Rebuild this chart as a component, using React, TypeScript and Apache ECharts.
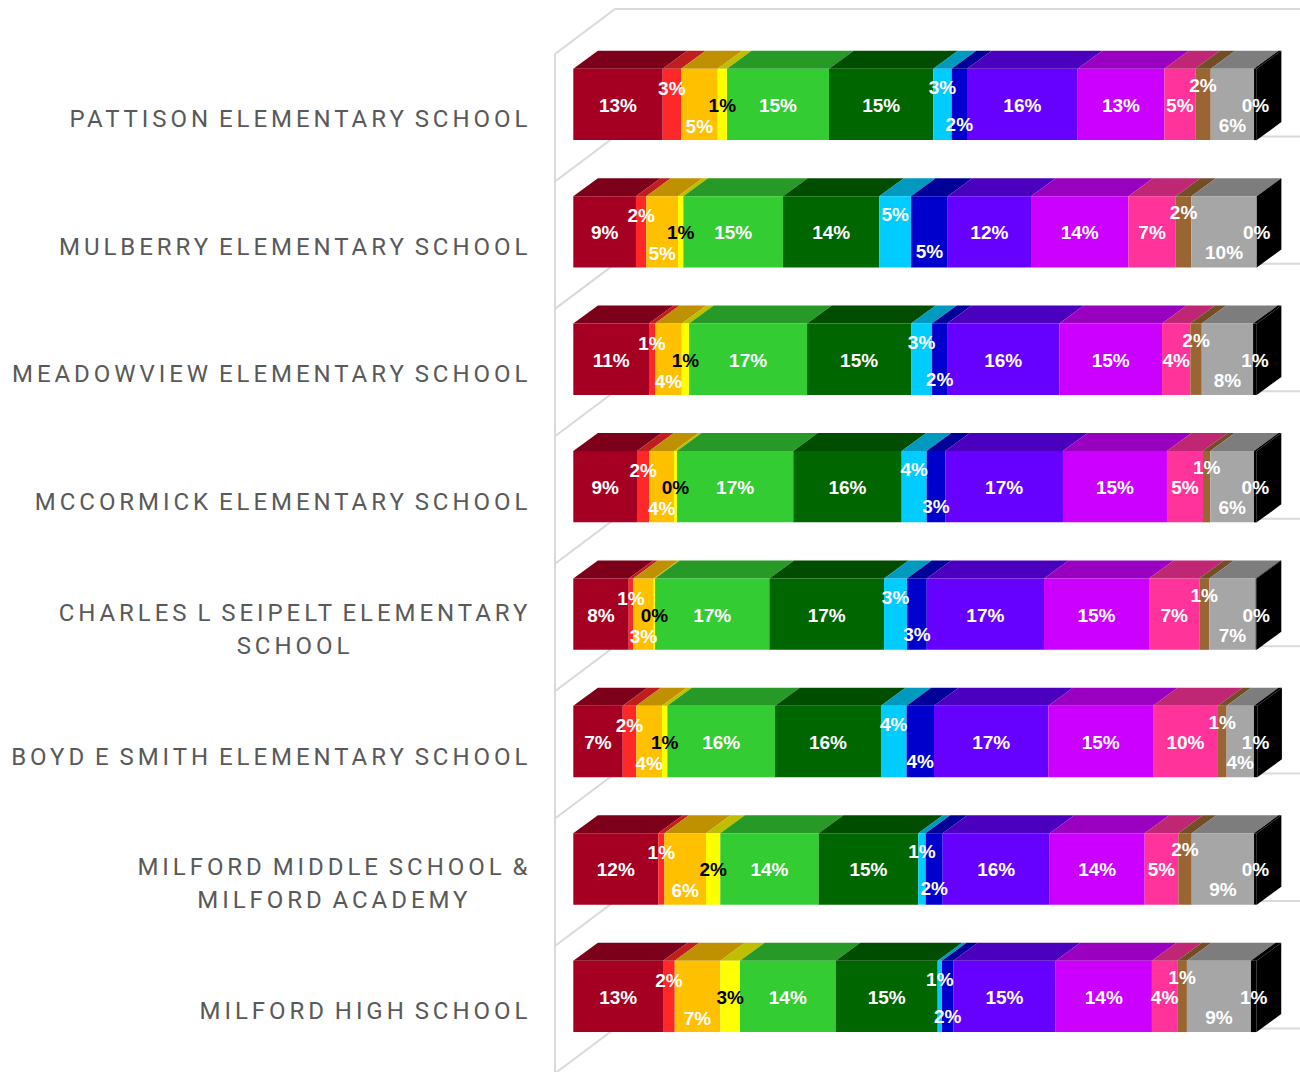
import React, { useEffect, useRef } from "react";
import * as echarts from "echarts";

const schools = [
  "PATTISON ELEMENTARY SCHOOL",
  "MULBERRY ELEMENTARY SCHOOL",
  "MEADOWVIEW ELEMENTARY SCHOOL",
  "MCCORMICK ELEMENTARY SCHOOL",
  "CHARLES L SEIPELT ELEMENTARY\nSCHOOL",
  "BOYD E SMITH ELEMENTARY SCHOOL",
  "MILFORD MIDDLE SCHOOL &\nMILFORD ACADEMY",
  "MILFORD HIGH SCHOOL",
];

const darkRed = [13.08, 9.17, 11.08, 9.32, 8.11, 7.23, 12.44, 13.13];
const red = [2.68, 1.51, 0.88, 1.8, 0.67, 1.99, 0.88, 1.71];
const orange = [5.37, 4.64, 3.91, 3.61, 2.99, 3.76, 6.1, 6.67];
const yellow = [1.36, 0.78, 1.07, 0.44, 0.19, 0.78, 2.09, 2.88];
const green = [14.93, 14.59, 17.27, 17.02, 16.73, 15.76, 14.4, 14.0];
const darkGreen = [15.26, 14.09, 15.22, 15.86, 16.78, 15.5, 14.57, 14.93];
const cyan = [2.69, 4.64, 3.07, 3.66, 3.37, 3.75, 1.08, 0.63];
const blue = [2.24, 5.37, 2.19, 2.72, 2.88, 4.01, 2.49, 1.65];
const violet = [16.2, 12.19, 16.43, 17.22, 17.16, 16.73, 15.66, 14.98];
const magenta = [12.67, 14.24, 15.03, 15.22, 15.36, 15.32, 13.9, 14.09];
const pink = [4.54, 6.94, 4.14, 5.27, 7.36, 9.5, 4.92, 3.7];
const brown = [2.25, 2.28, 1.67, 1.07, 1.46, 1.27, 1.96, 1.42];
const grey = [6.34, 9.57, 7.51, 6.39, 6.79, 3.99, 9.12, 9.37];
const black = [0.4, 0, 0.54, 0.4, 0.15, 0.5, 0.4, 0.83];

const seriesValues = [darkRed, red, orange, yellow, green, darkGreen, cyan, blue, violet, magenta, pink, brown, grey, black];
const frontColors = ["#A50021", "#FF2828", "#FFC000", "#FFFF00", "#33CC33", "#006600", "#00CCFF", "#0000CC", "#6600FF", "#CC00FF", "#FF3399", "#996633", "#A6A6A6", "#000000"];
const topColors = ["#7C0019", "#BF1E1E", "#BF9000", "#BFBF00", "#269926", "#004D00", "#0099BF", "#000099", "#4C00BF", "#9900BF", "#BF2673", "#734D26", "#7D7D7D", "#000000"];
const labelColors = ["#fff", "#fff", "#fff", "#000", "#fff", "#fff", "#fff", "#fff", "#fff", "#fff", "#fff", "#fff", "#fff", "#fff"];
const labelShift = [1, -16, 22, 1, 1, 1, -17, 20, 1, 1, 1, -19, 21, 1];

const DEPTH_X = 24.6;
const DEPTH_Y = 18;
const BAR_RISE = 15;
const BAR_HEIGHT_RATIO = 0.56;
const WALL_COLOR = "#D9D9D9";
const LETTER_SPACING = 3.95;
const WORD_SPACING = -3;

export default function App() {
  const ref = useRef<HTMLDivElement>(null);

  useEffect(() => {
    const chart = echarts.init(ref.current!, null, { renderer: "svg" });

    const wallSeries = {
      type: "custom",
      silent: true,
      z: 1,
      coordinateSystem: "cartesian2d",
      encode: { x: 0, y: 1 },
      data: schools.map((_, i) => [0, i]),
      renderItem: (params: any, api: any) => {
        const band = api.size([0, 1])[1];
        const origin = api.coord([0, api.value(1)]);
        const wallX = origin[0] - 18.3;
        const style = { stroke: WALL_COLOR, lineWidth: 2, fill: "none" };
        const floor = (y: number) => ({
          type: "polyline",
          shape: { points: [[wallX, y], [wallX + 60, y - 45], [1300, y - 45]] },
          style,
        });
        const y = origin[1] - band / 2 - 1.7;
        const children: any[] = [floor(y)];
        if (params.dataIndex === 0) {
          children.push({
            type: "line",
            shape: { x1: wallX, y1: y, x2: wallX, y2: 1072 },
            style,
          });
        }
        if (params.dataIndex === schools.length - 1) {
          children.push(floor(y + band));
        }
        return { type: "group", children };
      },
    };

    const barSeries = seriesValues.map((values, s) => {
      const data = values.map((v, row) => {
        let start = 0;
        for (let k = 0; k < s; k++) start += seriesValues[k][row];
        return [start, start + v, row];
      });
      return {
        type: "custom",
        silent: true,
        z: 3,
        coordinateSystem: "cartesian2d",
        encode: { x: [0, 1], y: 2 },
        data,
        renderItem: (params: any, api: any) => {
          const row = api.value(2);
          const p0 = api.coord([api.value(0), row]);
          const p1 = api.coord([api.value(1), row]);
          const band = api.size([0, 1])[1];
          const h = band * BAR_HEIGHT_RATIO;
          const cy = p0[1] - BAR_RISE;
          const yt = cy - h / 2;
          const children: any[] = [
            {
              type: "polygon",
              shape: {
                points: [
                  [p0[0], yt],
                  [p1[0], yt],
                  [p1[0] + DEPTH_X, yt - DEPTH_Y],
                  [p0[0] + DEPTH_X, yt - DEPTH_Y],
                ],
              },
              style: { fill: topColors[s] },
            },
            {
              type: "rect",
              shape: { x: p0[0], y: yt, width: p1[0] - p0[0], height: h },
              style: { fill: frontColors[s] },
            },
          ];
          if (s === seriesValues.length - 1) {
            children.push({
              type: "polygon",
              shape: {
                points: [
                  [p1[0], yt],
                  [p1[0] + DEPTH_X, yt - DEPTH_Y],
                  [p1[0] + DEPTH_X, yt - DEPTH_Y + h],
                  [p1[0], yt + h],
                ],
              },
              style: { fill: "#000000" },
            });
          }
          children.push({
            type: "text",
            z2: 50,
            style: {
              text: `${Math.round(values[params.dataIndex])}%`,
              x: (p0[0] + p1[0]) / 2,
              y: cy + labelShift[s],
              align: "center",
              verticalAlign: "middle",
              fill: labelColors[s],
              font: "bold 19px 'Liberation Sans'",
            },
          });
          return { type: "group", children };
        },
      };
    });

    chart.setOption({
      animation: false,
      backgroundColor: "#ffffff",
      grid: { left: 573.3, width: 683.4, top: 55.7, height: 1019.4, outerBoundsMode: "none" },
      xAxis: { type: "value", min: 0, max: 100, show: false },
      yAxis: {
        type: "category",
        inverse: true,
        data: schools,
        axisLine: { show: false },
        axisTick: { show: false },
        splitLine: { show: false },
        axisLabel: {
          interval: 0,
          margin: 42,
          color: "#595959",
          fontFamily: "Roboto",
          fontSize: 24,
          lineHeight: 33,
          align: "right",
        },
      },
      series: [wallSeries, ...barSeries],
    });

    // ECharts has no letter-spacing option for axis labels: apply it on the drawn SVG text.
    const dom = ref.current!;
    const allLines = schools.flatMap((s) => s.split("\n"));
    const nodes = Array.from(dom.querySelectorAll("text")) as SVGTextElement[];
    const find = (line: string) => nodes.find((n) => n.textContent === line);
    allLines.forEach((line) => {
      const n = find(line);
      if (n) {
        n.style.letterSpacing = `${LETTER_SPACING}px`;
        n.style.wordSpacing = `${WORD_SPACING}px`;
      }
    });
    schools
      .filter((s) => s.includes("\n"))
      .forEach((s) => {
        const [a, b] = s.split("\n");
        const na = find(a);
        const nb = find(b);
        if (na && nb) {
          const right = parseFloat(nb.getAttribute("x") || "0");
          nb.setAttribute("x", String(right - (na.getComputedTextLength() - nb.getComputedTextLength()) / 2));
        }
      });

    return () => chart.dispose();
  }, []);

  return <div ref={ref} style={{ position: "absolute", left: 0, top: 0, width: 1300, height: 1072 }} />;
}
